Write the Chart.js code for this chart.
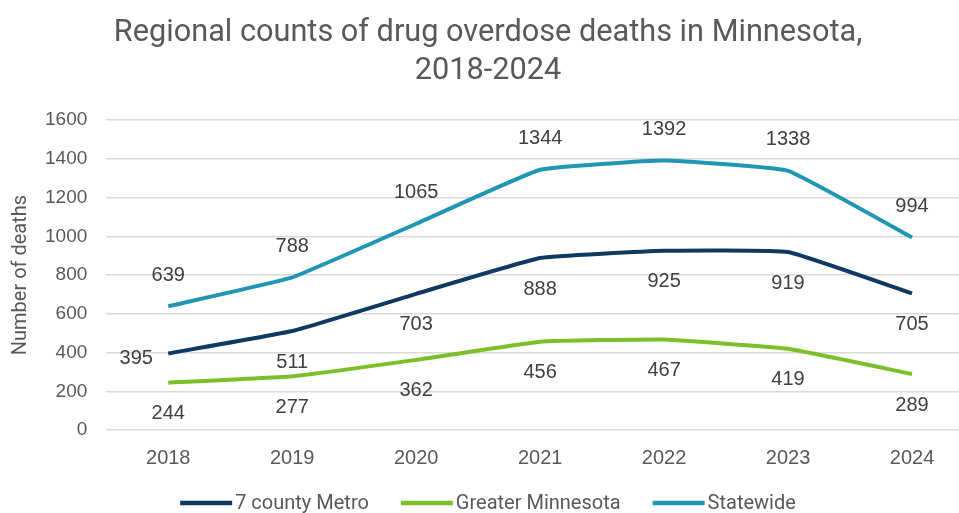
<!DOCTYPE html>
<html lang="en">
<head>
    <meta charset="UTF-8">
    <title>Regional counts of drug overdose deaths in Minnesota, 2018-2024</title>
    <script src="https://cdn.jsdelivr.net/npm/chart.js"></script>
    <style>
        html, body { margin: 0; padding: 0; background: #ffffff; overflow: hidden; }
        /* a bit wider than the window: the original picture is cropped on the right */
        #wrap { position: absolute; left: 0; top: 0; width: 976px; height: 513px; }
    </style>
</head>
<body>
    <div id="wrap"><canvas id="odChart"></canvas></div>

    <script>
        // data
        const years = ['2018', '2019', '2020', '2021', '2022', '2023', '2024'];
        const metro = [395, 511, 703, 888, 925, 919, 705];
        const greater = [244, 277, 362, 456, 467, 419, 289];
        const statewide = [639, 788, 1065, 1344, 1392, 1338, 994];
        const yTicks = [0, 200, 400, 600, 800, 1000, 1200, 1400, 1600];

        const narrow = "Roboto, 'Open Sans', sans-serif";
        const plain = "'Liberation Sans', Arial, sans-serif";

        // value labels: statewide above, the rest below (first metro one sits to the left)
        const pointLabels = {
            id: 'pointLabels',
            afterDatasetsDraw(chart) {
                const ctx = chart.ctx;
                ctx.save();
                ctx.font = '20px ' + plain;
                ctx.fillStyle = '#404040';
                ctx.textAlign = 'center';
                ctx.textBaseline = 'middle';
                chart.data.datasets.forEach((ds, i) => {
                    chart.getDatasetMeta(i).data.forEach((pt, j) => {
                        let x = pt.x, y = pt.y;
                        if (ds.labelPos === 'above') y -= 31;
                        else if (i === 0 && j === 0) { x -= 32; y += 5; }
                        else y += 31;
                        ctx.fillText(ds.data[j], x, y);
                    });
                });
                ctx.restore();
            }
        };

        // Excel-like legend: long thick line then the text right after it
        const lineLegend = {
            id: 'lineLegend',
            afterDraw(chart) {
                const ctx = chart.ctx;
                const markW = 52, gap = 3, itemGap = 32, y = 503, cx = 488;
                ctx.save();
                ctx.font = '20px ' + narrow;
                ctx.textBaseline = 'middle';
                ctx.textAlign = 'left';
                const items = chart.data.datasets.map(ds => ({ ds, w: markW + gap + ctx.measureText(ds.label).width }));
                const total = items.reduce((s, it) => s + it.w, 0) + itemGap * (items.length - 1);
                let x = cx - total / 2;
                items.forEach(it => {
                    ctx.strokeStyle = it.ds.borderColor;
                    ctx.lineWidth = 4.5;
                    ctx.beginPath();
                    ctx.moveTo(x, y);
                    ctx.lineTo(x + markW, y);
                    ctx.stroke();
                    ctx.fillStyle = '#595959';
                    ctx.fillText(it.ds.label, x + markW + gap, y + 1);
                    x += it.w + itemGap;
                });
                ctx.restore();
            }
        };

        new Chart(document.getElementById('odChart'), {
            type: 'line',
            data: {
                labels: years,
                datasets: [
                    { label: '7 county Metro', data: metro, borderColor: '#0e3a61', backgroundColor: '#0e3a61', labelPos: 'below' },
                    { label: 'Greater Minnesota', data: greater, borderColor: '#7cbf2b', backgroundColor: '#7cbf2b', labelPos: 'below' },
                    { label: 'Statewide', data: statewide, borderColor: '#2196b4', backgroundColor: '#2196b4', labelPos: 'above' }
                ].map(d => Object.assign(d, { borderWidth: 4, pointRadius: 0, tension: 0.1, fill: false }))
            },
            options: {
                responsive: true,
                maintainAspectRatio: false,
                animation: false,
                layout: { padding: { left: 2, right: 2, bottom: 27 } },
                plugins: {
                    title: {
                        display: true,
                        text: ['Regional counts of drug overdose deaths in Minnesota,', '2018-2024'],
                        color: '#595959',
                        font: { family: narrow, size: 30.7, weight: 'normal', lineHeight: 1.24 },
                        padding: { top: 14, bottom: 30 }
                    },
                    legend: { display: false },
                    tooltip: { enabled: false }
                },
                scales: {
                    x: {
                        offset: true,
                        grid: { display: false, drawTicks: false },
                        border: { display: false },
                        ticks: { color: '#595959', font: { family: plain, size: 20 }, padding: 16 }
                    },
                    y: {
                        min: 0,
                        max: 1600,
                        afterBuildTicks: axis => { axis.ticks = yTicks.map(v => ({ value: v })); },
                        // title pushed right a little without moving the plot
                        afterFit: axis => { axis.width -= 7; },
                        grid: { color: '#d9d9d9', lineWidth: 1.5, drawTicks: false },
                        border: { display: false },
                        ticks: {
                            color: '#595959',
                            font: { family: plain, size: 19 },
                            padding: 19,
                            callback: v => String(v)
                        },
                        title: {
                            display: true,
                            text: 'Number of deaths',
                            color: '#595959',
                            font: { family: narrow, size: 20 },
                            padding: { top: 7, bottom: 0 }
                        }
                    }
                }
            },
            plugins: [pointLabels, lineLegend]
        });
    </script>
</body>
</html>
